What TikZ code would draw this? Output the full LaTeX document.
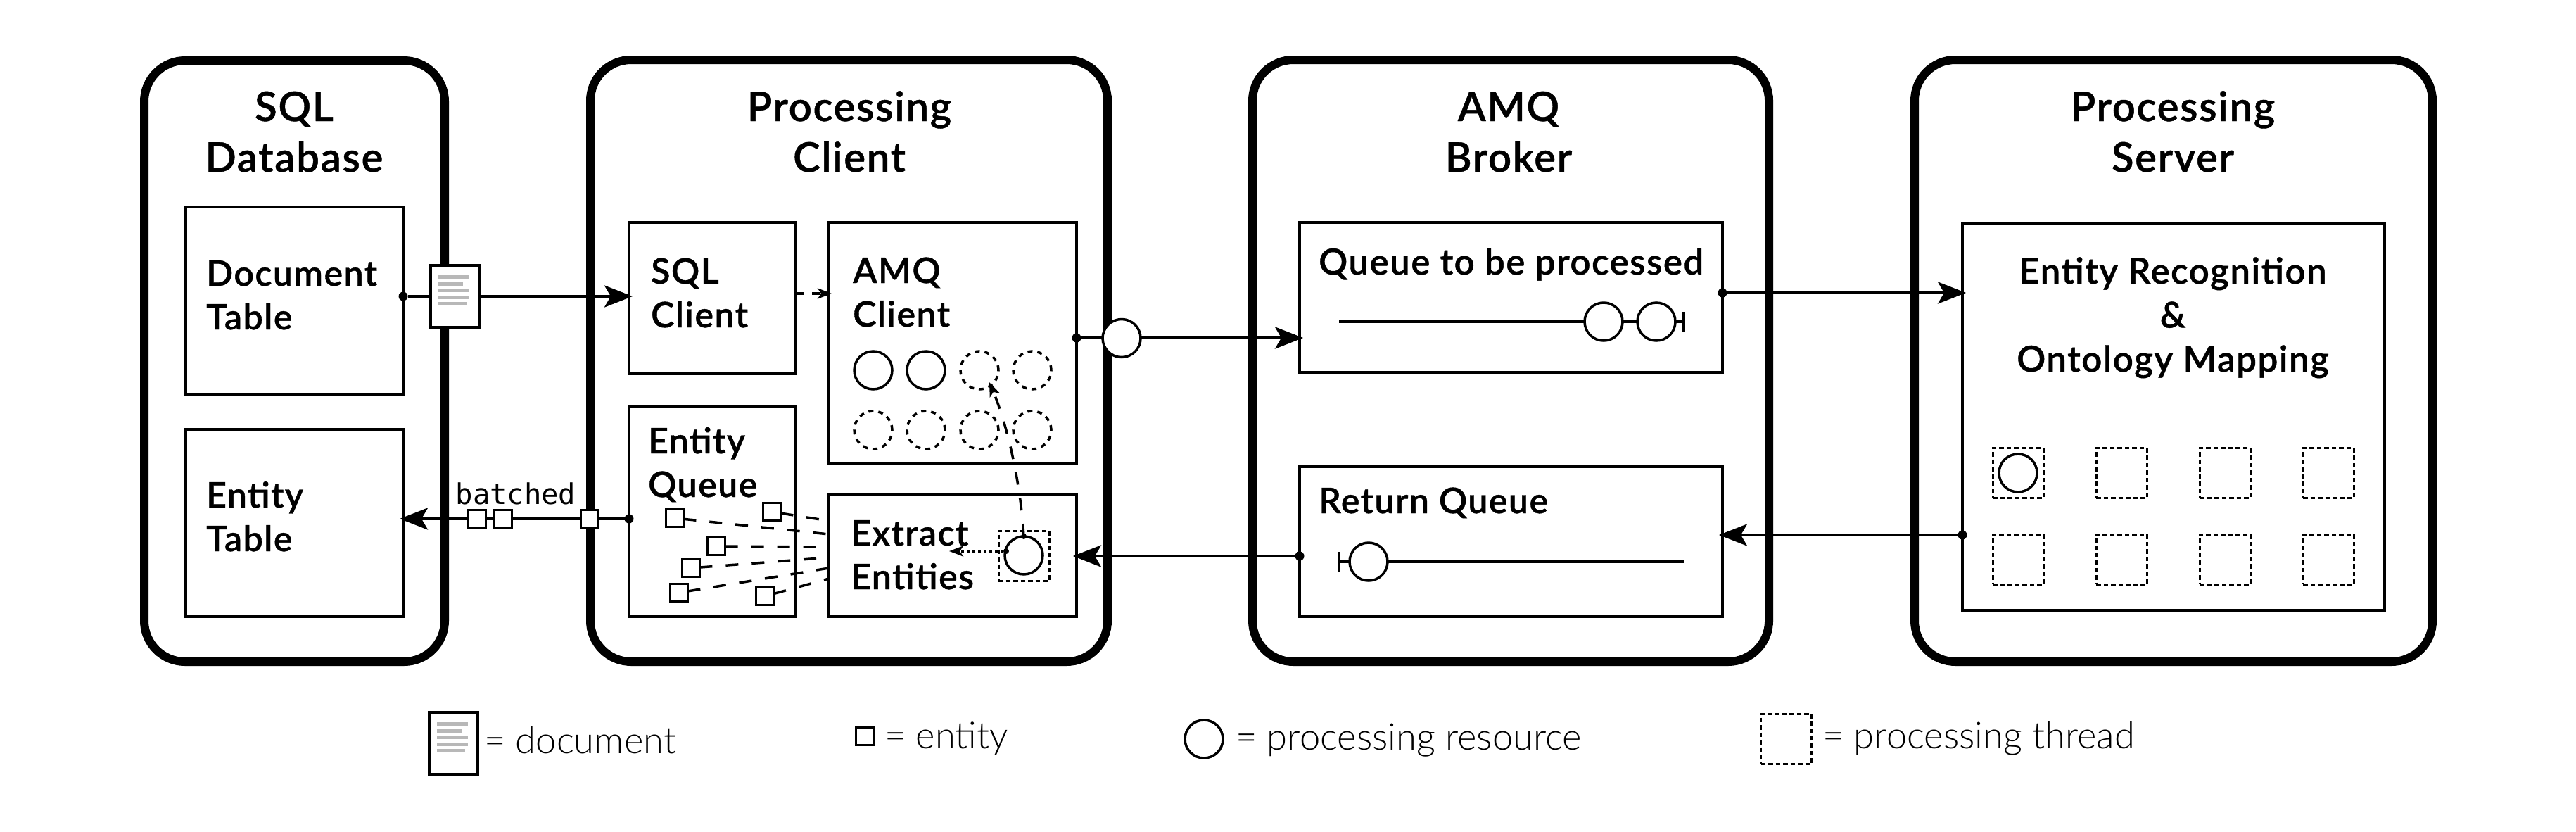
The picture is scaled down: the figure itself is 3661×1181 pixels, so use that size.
\documentclass[tikz,border=0pt]{standalone}
\usepackage{fontspec}
\usetikzlibrary{arrows.meta}
\setmainfont{Lato}
\newfontfamily\medf[LetterSpace=3,FakeBold=0.8]{Lato Semibold}
\newfontfamily\lightf{Lato Light}
\newfontfamily\monof{DejaVu Sans Mono}
\definecolor{docgray}{HTML}{B8B8B8}
\tikzset{
  x=1pt,y=-1pt,
  container/.style={draw=black,line width=12pt,rounded corners=58pt,fill=white,inner sep=0pt,outer sep=0pt},
  innerbox/.style={draw=black,line width=4pt,fill=white,inner sep=0pt,outer sep=0pt},
  title/.style={anchor=base,inner sep=0pt,align=center,font=\medf\fontsize{58}{72}\selectfont},
  sub/.style={anchor=base west,inner sep=0pt,align=left,font=\medf\fontsize{50}{62}\selectfont},
  subc/.style={anchor=base,inner sep=0pt,align=center,font=\medf\fontsize{50}{62.5}\selectfont},
  legend/.style={anchor=base west,inner sep=0pt,font=\lightf\fontsize{52.5}{60}\selectfont},
  conn/.style={draw=black,line width=4pt},
  bigarrow/.style={conn,-{Stealth[length=40pt,width=31pt,inset=9pt]},shorten >=-5pt},
  smallarrow/.style={-{Stealth[length=20pt,width=15pt,inset=5pt]}},
  dashline/.style={draw=black,line width=3.5pt,dash pattern=on 18pt off 19pt},
  dotline/.style={draw=black,line width=3.5pt,dash pattern=on 4pt off 4pt},
  dotn/.style={circle,fill=black,inner sep=0pt,outer sep=0pt,minimum size=13pt},
  tinydot/.style={circle,fill=black,inner sep=0pt,outer sep=0pt,minimum size=8pt},
  res/.style={circle,draw=black,line width=3.5pt,fill=white,inner sep=0pt,outer sep=0pt,minimum size=54pt},
  resd/.style={res,dash pattern=on 7pt off 7pt,fill=none},
  ent/.style={rectangle,draw=black,line width=3pt,fill=white,inner sep=0pt,outer sep=0pt,minimum size=25pt},
  thr/.style={rectangle,draw=black,line width=3pt,dash pattern=on 6.5pt off 4pt,inner sep=0pt,outer sep=0pt,minimum width=72pt,minimum height=71pt},
  docbox/.style={rectangle,draw=black,line width=4pt,fill=white,inner sep=0pt,outer sep=0pt,minimum width=69pt,minimum height=88pt},
  docline/.style={draw=docgray,line width=5pt},
}
\newcommand{\bx}[6]{\node[#6,minimum width={#4-#2},minimum height={#5-#3}] (#1) at ({(#2+#4)/2},{(#3+#5)/2}) {};}
\newcommand{\docicon}[3]{%
  \node[docbox] (#1) at (#2+34.5,#3+44) {};
  \draw[docline] (#2+11,#3+16)--(#2+55,#3+16);
  \draw[docline] (#2+11,#3+26)--(#2+46,#3+26);
  \draw[docline] (#2+11,#3+35)--(#2+55,#3+35);
  \draw[docline] (#2+11,#3+45)--(#2+55,#3+45);
  \draw[docline] (#2+11,#3+54)--(#2+51,#3+54);}
\begin{document}
\begin{tikzpicture}
\useasboundingbox (0,0) rectangle (3661,1181);
% containers
\bx{csql}{205}{86}{632}{940}{container}
\bx{cpc}{839}{85}{1574}{940}{container}
\bx{camq}{1780}{85}{2514}{940}{container}
\bx{cps}{2721}{85}{3457}{940}{container}
% titles
\node[title] (tsql) at (418,244) {SQL\\Database};
\node[title] (tpc) at (1207,244) {Processing\\Client};
\node[title] (tamq) at (2144,244) {AMQ\\Broker};
\node[title] (tps) at (3088,244) {Processing\\Server};
% inner boxes
\bx{doct}{264}{294}{573}{561}{innerbox}
\bx{entt}{264}{610}{573}{876}{innerbox}
\bx{sqlc}{894}{316}{1130}{531}{innerbox}
\bx{amqc}{1178}{316}{1530}{659}{innerbox}
\bx{entq}{894}{578}{1130}{876}{innerbox}
\bx{extr}{1178}{703}{1530}{876}{innerbox}
\bx{qtbp}{1847}{316}{2448}{529}{innerbox}
\bx{retq}{1847}{663}{2448}{876}{innerbox}
\bx{srv}{2789}{317}{3389}{867}{innerbox}
% box labels
\node[sub] (ldoct) at (293,468) {Document\\Table};
\node[sub] (lentt) at (293,783) {Entity\\Table};
\node[sub] (lsqlc) at (925,465) {SQL\\Client};
\node[sub] (lamqc) at (1212,464) {AMQ\\Client};
\node[sub] (lentq) at (921,706) {Entity\\Queue};
\node[sub] (lextr) at (1209,837) {Extract\\Entities};
\node[sub,font=\medf\fontsize{51}{62}\selectfont] (lqtbp) at (1874,390) {Queue to be processed};
\node[sub] (lretq) at (1874,729) {Return Queue};
\node[subc,font=\medf\fontsize{51}{62.5}\selectfont] (lsrv) at (3088,528) {Entity Recognition\\\&\\Ontology Mapping};
% resource circles in the AMQ client
\node[res] (r1) at (1241,526) {};
\node[res] (r2) at (1316,526) {};
\node[resd] (r3) at (1392,526) {};
\node[resd] (r4) at (1467,526) {};
\node[resd] (r5) at (1241,611) {};
\node[resd] (r6) at (1316,611) {};
\node[resd] (r7) at (1392,611) {};
\node[resd] (r8) at (1467,611) {};
% entities and their dashed lines
\node[ent] (e1) at (959,736) {};
\node[ent] (e2) at (1097,727) {};
\node[ent] (e3) at (1018,776) {};
\node[ent] (e4) at (982,807) {};
\node[ent] (e5) at (965,842) {};
\node[ent] (e6) at (1087,847) {};
\coordinate (x1) at (1178,759);
\coordinate (x2) at (1178,740);
\coordinate (x3) at (1178,777);
\coordinate (x4) at (1178,792);
\coordinate (x5) at (1178,807);
\coordinate (x6) at (1178,822);
\foreach \i in {1,...,6}{\draw[dashline] (e\i) -- (x\i);}
% thread in Extract Entities
\node[thr] (th0) at (1455,789.5) {};
\node[res] (rx) at (1455,789) {};
\node[tinydot] (dx1) at (1455,762) {};
\node[tinydot] (dx2) at (1430,783) {};
\coordinate (tipup) at (1406,543);
\coordinate (tipdot) at (1349,783);
\draw[dashline,smallarrow] (dx1.center) .. controls (1450,680) and (1430,600) .. (tipup);
\draw[dotline,smallarrow] (dx2) -- (tipdot);
% server threads
\node[thr] (t1) at (2868,672) {};
\node[thr] (t2) at (3015,672) {};
\node[thr] (t3) at (3162,672) {};
\node[thr] (t4) at (3309,672) {};
\node[thr] (t5) at (2868,794.5) {};
\node[thr] (t6) at (3015,794.5) {};
\node[thr] (t7) at (3162,794.5) {};
\node[thr] (t8) at (3309,794.5) {};
\node[res] (rs) at (2868,672) {};
% queues
\node[res] (q1) at (2279,457) {};
\node[res] (q2) at (2354,457) {};
\coordinate (qa) at (1903,457);
\node[inner sep=0pt,outer sep=0pt,minimum width=0pt,minimum height=28pt] (qb) at (2393,457) {};
\draw[conn] (qa) -- (q1) (q1) -- (q2) (q2) -- (qb.center) (qb.north) -- (qb.south);
\node[res] (q3) at (1945,798) {};
\node[inner sep=0pt,outer sep=0pt,minimum width=0pt,minimum height=28pt] (qc) at (1903,798) {};
\coordinate (qd) at (2393,798);
\draw[conn] (qc.center) -- (q3) (q3) -- (qd) (qc.north) -- (qc.south);
% flows
\node[dotn] (d1) at (573,421) {};
\draw[bigarrow] (d1) -- (sqlc.west |- d1);
\docicon{doc1}{612}{377}
\draw[dashline,smallarrow,dash pattern=on 12pt off 12pt,shorten >=-4pt] (sqlc.east |- 0,417) -- (amqc.west |- 0,417);
\node[dotn] (d2) at (894,737) {};
\draw[bigarrow] (d2) -- (entt.east |- d2);
\node[ent] (eb1) at (677.5,737) {};
\node[ent] (eb2) at (714.5,737) {};
\node[ent] (eb3) at (837.5,737) {};
\node[anchor=base,inner sep=0pt,font=\monof\fontsize{40.5}{48}\selectfont] (batch) at (733,716) {batched};
\node[dotn] (d3) at (1530,480) {};
\draw[bigarrow] (d3) -- (qtbp.west |- d3);
\node[res] (r0) at (1594,480.5) {};
\node[dotn] (d4) at (2448,416) {};
\draw[bigarrow] (d4) -- (srv.west |- d4);
\node[dotn] (d5) at (2789,760) {};
\draw[bigarrow] (d5) -- (retq.east |- d5);
\node[dotn] (d6) at (1847,790) {};
\draw[bigarrow] (d6) -- (extr.east |- d6);
% legend
\docicon{doc2}{610}{1012}
\node[legend] (l1) at (688,1070) {= document};
\node[ent] (le) at (1229,1046) {};
\node[legend] (l2) at (1257,1063) {= entity};
\node[res] (lr) at (1711,1050) {};
\node[legend] (l3) at (1756,1065) {= processing resource};
\node[thr] (lt) at (2538.5,1049.5) {};
\node[legend] (l4) at (2590,1063) {= processing thread};
\end{tikzpicture}
\end{document}
